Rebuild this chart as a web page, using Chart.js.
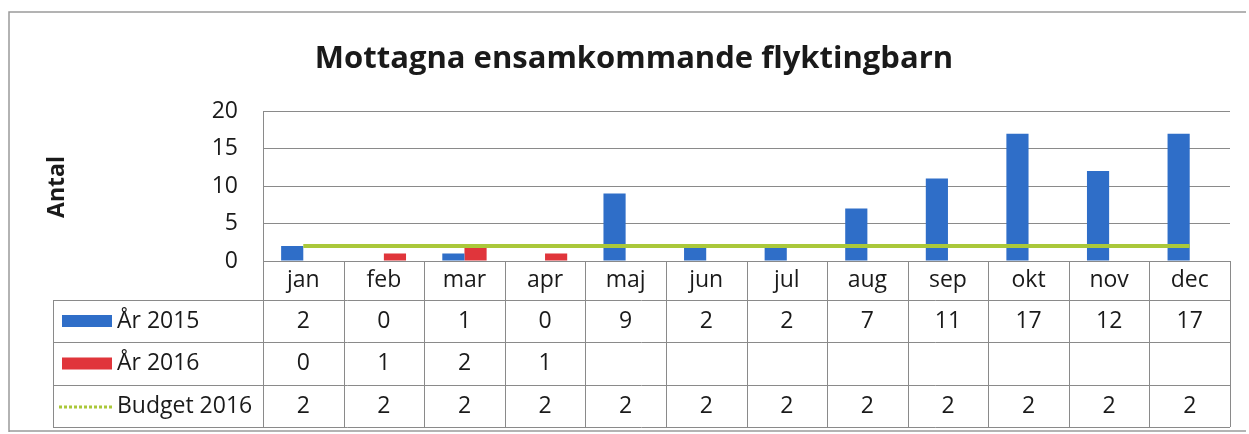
<!DOCTYPE html>
<html>
<head>
<meta charset="utf-8">
<script src="https://cdn.jsdelivr.net/npm/chart.js@4"></script>
<style>
  html, body { margin: 0; padding: 0; background: #fff; }
  #wrap { width: 1249px; height: 434px; }
</style>
</head>
<body>
<div id="wrap"><canvas id="myChart" width="1249" height="434"></canvas></div>
<script>
const months = ['jan', 'feb', 'mar', 'apr', 'maj', 'jun', 'jul', 'aug', 'sep', 'okt', 'nov', 'dec'];
const year2015 = [2, 0, 1, 0, 9, 2, 2, 7, 11, 17, 12, 17];
const year2016 = [0, 1, 2, 1, null, null, null, null, null, null, null, null];
const budget2016 = [2, 2, 2, 2, 2, 2, 2, 2, 2, 2, 2, 2];
const yTicks = [0, 5, 10, 15, 20];

const BLUE = '#2f6ec8';
const RED = '#e0353b';
const GREEN = '#aac83a';
const FONT = "'Open Sans', sans-serif";

// data table under the plot, drawn from the same arrays and the x scale
const tablePlugin = {
  id: 'dataTable',
  afterDraw(chart) {
    const { ctx, chartArea } = chart;
    const x = chart.scales.x;
    const step = (chartArea.right - chartArea.left) / months.length;
    const left = chartArea.left, right = chartArea.right;
    const top = chartArea.bottom;
    const rows = [top, top + 39, top + 81, top + 124, top + 166];
    const legendLeft = 53;

    ctx.save();
    // outer frame
    ctx.strokeStyle = '#9a9a9a';
    ctx.lineWidth = 1.5;
    ctx.beginPath();
    ctx.moveTo(9, 432); ctx.lineTo(9, 12); ctx.lineTo(1246, 12);
    ctx.moveTo(9, 431); ctx.lineTo(1246, 431);
    ctx.stroke();

    ctx.strokeStyle = '#8a8a8a';
    ctx.lineWidth = 1;
    ctx.beginPath();
    // vertical lines of month columns
    for (let i = 0; i <= months.length; i++) {
      const xx = Math.round(left + i * step) + 0.5;
      ctx.moveTo(xx, rows[0]);
      ctx.lineTo(xx, rows[4]);
    }
    // horizontal lines
    for (let r = 1; r < rows.length; r++) {
      ctx.moveTo(legendLeft, Math.round(rows[r]) + 0.5);
      ctx.lineTo(right, Math.round(rows[r]) + 0.5);
    }
    ctx.moveTo(legendLeft + 0.5, rows[1]);
    ctx.lineTo(legendLeft + 0.5, rows[4]);
    ctx.stroke();

    ctx.fillStyle = '#1a1a1a';
    ctx.font = '23px ' + FONT;
    ctx.textAlign = 'center';
    ctx.textBaseline = 'middle';
    months.forEach((m, i) => {
      ctx.fillText(m, x.getPixelForValue(i), (rows[0] + rows[1]) / 2);
    });
    const series = [year2015, year2016, budget2016];
    series.forEach((arr, r) => {
      const cy = (rows[r + 1] + rows[r + 2]) / 2;
      arr.forEach((v, i) => {
        if (v === null) return;
        ctx.fillText(String(v), x.getPixelForValue(i), cy);
      });
    });

    // legend keys + names
    const names = chart.data.datasets.map(d => d.label);
    const order = [1, 2, 0];
    ctx.textAlign = 'left';
    order.forEach((di, r) => {
      const cy = (rows[r + 1] + rows[r + 2]) / 2;
      const ds = chart.data.datasets[di];
      if (ds.type === 'line') {
        ctx.strokeStyle = GREEN;
        ctx.lineWidth = 3;
        ctx.setLineDash([3, 2]);
        ctx.beginPath();
        ctx.moveTo(59, cy + 1);
        ctx.lineTo(114, cy + 1);
        ctx.stroke();
        ctx.setLineDash([]);
      } else {
        ctx.fillStyle = ds.backgroundColor;
        ctx.fillRect(62, cy - 6, 50, 12);
      }
      ctx.fillStyle = '#1a1a1a';
      ctx.fillText(names[di], 117, cy);
    });

    // y axis title
    ctx.save();
    ctx.translate(57, 187);
    ctx.rotate(-Math.PI / 2);
    ctx.textAlign = 'center';
    ctx.font = 'bold 23px ' + FONT;
    ctx.fillText('Antal', 0, 0);
    ctx.restore();
    ctx.restore();
  }
};

const ctx = document.getElementById('myChart').getContext('2d');

new Chart(ctx, {
  data: {
    labels: months,
    datasets: [
      {
        type: 'line',
        label: 'Budget 2016',
        data: budget2016,
        borderColor: GREEN,
        borderWidth: 4,
        pointRadius: 0,
        tension: 0,
        order: 0
      },
      {
        type: 'bar',
        label: 'År 2015',
        data: year2015,
        backgroundColor: BLUE,
        categoryPercentage: 0.55,
        barPercentage: 1,
        order: 1
      },
      {
        type: 'bar',
        label: 'År 2016',
        data: year2016,
        backgroundColor: RED,
        categoryPercentage: 0.55,
        barPercentage: 1,
        order: 1
      }
    ]
  },
  options: {
    responsive: false,
    animation: false,
    layout: { padding: { left: 38, right: 19, top: 0, bottom: 0 } },
    plugins: {
      legend: { display: false },
      tooltip: { enabled: false },
      title: {
        display: true,
        text: 'Mottagna ensamkommande flyktingbarn',
        color: '#1a1a1a',
        font: { family: FONT, size: 31, weight: 'bold' },
        padding: { top: 41, bottom: 33 }
      }
    },
    scales: {
      x: {
        grid: { display: false },
        border: { display: false },
        ticks: { display: false },
        afterFit: s => { s.height = 173; }
      },
      y: {
        min: 0,
        max: 20,
        afterBuildTicks: s => { s.ticks = yTicks.map(v => ({ value: v })); },
        afterFit: s => { s.width = 225; },
        grid: { color: '#8a8a8a', drawTicks: false },
        border: { color: '#8a8a8a' },
        ticks: {
          color: '#1a1a1a',
          padding: 25,
          font: { family: FONT, size: 23 }
        }
      }
    }
  },
  plugins: [tablePlugin]
});
</script>
</body>
</html>
